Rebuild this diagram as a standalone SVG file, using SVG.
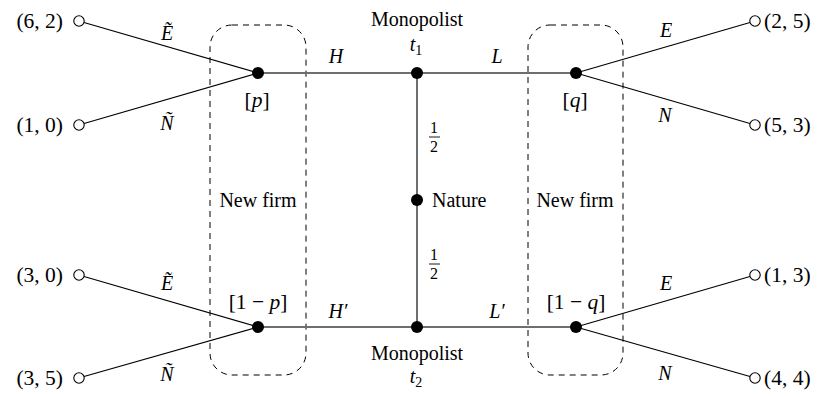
<svg xmlns="http://www.w3.org/2000/svg" width="825" height="397" viewBox="0 0 825 397">
<style>
text{font-family:"Liberation Serif","Times New Roman","DejaVu Serif",serif;font-size:20px;fill:#000}
.m{font-style:italic}
.c{text-anchor:middle}
.e{text-anchor:end}
.pay{font-size:21.5px}
.fr{font-size:16px;text-anchor:middle}
.sub{font-size:14px;font-style:normal}
.up{font-style:normal}
.dot{fill:#000}
.term{fill:#fff;stroke:#000;stroke-width:1.1}
.main{stroke:#6e6e6e;stroke-width:2;fill:none}
.br{stroke:#000;stroke-width:1.2;fill:none}
.info{fill:none;stroke:#000;stroke-width:1;stroke-dasharray:6 5}
.bar{stroke:#000;stroke-width:0.9}
</style>
<g id="info-sets">
<rect class="info" x="210" y="25" width="96" height="350" rx="22" ry="22"/>
<rect class="info" x="528" y="25" width="95" height="350" rx="22" ry="22"/>
<text class="c" x="258" y="207">New firm</text>
<text class="c" x="575" y="207">New firm</text>
</g>
<g id="connectors">
<line class="main" x1="258" y1="73" x2="575" y2="73"/>
<line class="main" x1="258" y1="327" x2="575" y2="327"/>
<line class="main" x1="417" y1="73" x2="417" y2="327"/>
<line class="br" x1="258" y1="73" x2="84" y2="22.5"/>
<line class="br" x1="258" y1="73" x2="84" y2="123.5"/>
<line class="br" x1="258" y1="327" x2="84" y2="276.5"/>
<line class="br" x1="258" y1="327" x2="84" y2="376.5"/>
<line class="br" x1="576" y1="73" x2="750" y2="22.5"/>
<line class="br" x1="576" y1="73" x2="750" y2="123.5"/>
<line class="br" x1="576" y1="327" x2="750" y2="276.5"/>
<line class="br" x1="576" y1="327" x2="750" y2="376.5"/>
<text class="m c" x="167" y="40">Ẽ</text>
<text class="m c" x="167" y="130">Ñ</text>
<text class="m c" x="167" y="290">Ẽ</text>
<text class="m c" x="167" y="381">Ñ</text>
<text class="m c" x="666" y="37">E</text>
<text class="m c" x="665" y="122">N</text>
<text class="m c" x="666" y="290">E</text>
<text class="m c" x="665" y="380">N</text>
<text class="m c" x="336" y="63">H</text>
<text class="m c" x="497" y="63">L</text>
<text class="m c" x="338" y="318">H′</text>
<text class="m c" x="497" y="318">L′</text>
<g id="prob-up">
<text class="fr" x="434" y="133">1</text>
<line class="bar" x1="429" y1="137" x2="440" y2="137"/>
<text class="fr" x="434" y="152">2</text>
</g>
<g id="prob-down">
<text class="fr" x="434" y="260">1</text>
<line class="bar" x1="429" y1="264" x2="440" y2="264"/>
<text class="fr" x="434" y="279">2</text>
</g>
</g>
<g id="t1">
<circle class="dot" cx="417" cy="73" r="6"/>
<text class="c" x="417" y="26">Monopolist</text>
<text class="m c" x="416" y="51">t<tspan class="sub" dy="4">1</tspan></text>
</g>
<g id="t2">
<circle class="dot" cx="417" cy="327" r="6"/>
<text class="c" x="417" y="360">Monopolist</text>
<text class="m c" x="416" y="383">t<tspan class="sub" dy="4">2</tspan></text>
</g>
<g id="nature">
<circle class="dot" cx="417" cy="200" r="6"/>
<text x="432" y="207">Nature</text>
</g>
<g id="p">
<circle class="dot" cx="258" cy="73" r="6"/>
<text class="c pay" x="257" y="107"><tspan class="up">[</tspan><tspan class="m">p</tspan><tspan class="up">]</tspan></text>
</g>
<g id="one-minus-p">
<circle class="dot" cx="258" cy="327" r="6"/>
<text class="c pay" x="258" y="309"><tspan class="up">[1 − </tspan><tspan class="m">p</tspan><tspan class="up">]</tspan></text>
</g>
<g id="q">
<circle class="dot" cx="576" cy="73" r="6"/>
<text class="c pay" x="575" y="107"><tspan class="up">[</tspan><tspan class="m">q</tspan><tspan class="up">]</tspan></text>
</g>
<g id="one-minus-q">
<circle class="dot" cx="576" cy="327" r="6"/>
<text class="c pay" x="576" y="309"><tspan class="up">[1 − </tspan><tspan class="m">q</tspan><tspan class="up">]</tspan></text>
</g>
<g id="term-62">
<circle class="term" cx="79" cy="21" r="5.2"/>
<text class="e pay" x="63" y="28">(6, 2)</text>
</g>
<g id="term-10">
<circle class="term" cx="79" cy="125" r="5.2"/>
<text class="e pay" x="63" y="132">(1, 0)</text>
</g>
<g id="term-30">
<circle class="term" cx="79" cy="275" r="5.2"/>
<text class="e pay" x="63" y="282">(3, 0)</text>
</g>
<g id="term-35">
<circle class="term" cx="79" cy="378" r="5.2"/>
<text class="e pay" x="63" y="385">(3, 5)</text>
</g>
<g id="term-25">
<circle class="term" cx="755" cy="21" r="5.2"/>
<text class="pay" x="764" y="28">(2, 5)</text>
</g>
<g id="term-53">
<circle class="term" cx="755" cy="125" r="5.2"/>
<text class="pay" x="764" y="132">(5, 3)</text>
</g>
<g id="term-13">
<circle class="term" cx="755" cy="275" r="5.2"/>
<text class="pay" x="764" y="282">(1, 3)</text>
</g>
<g id="term-44">
<circle class="term" cx="755" cy="378" r="5.2"/>
<text class="pay" x="764" y="385">(4, 4)</text>
</g>
</svg>
